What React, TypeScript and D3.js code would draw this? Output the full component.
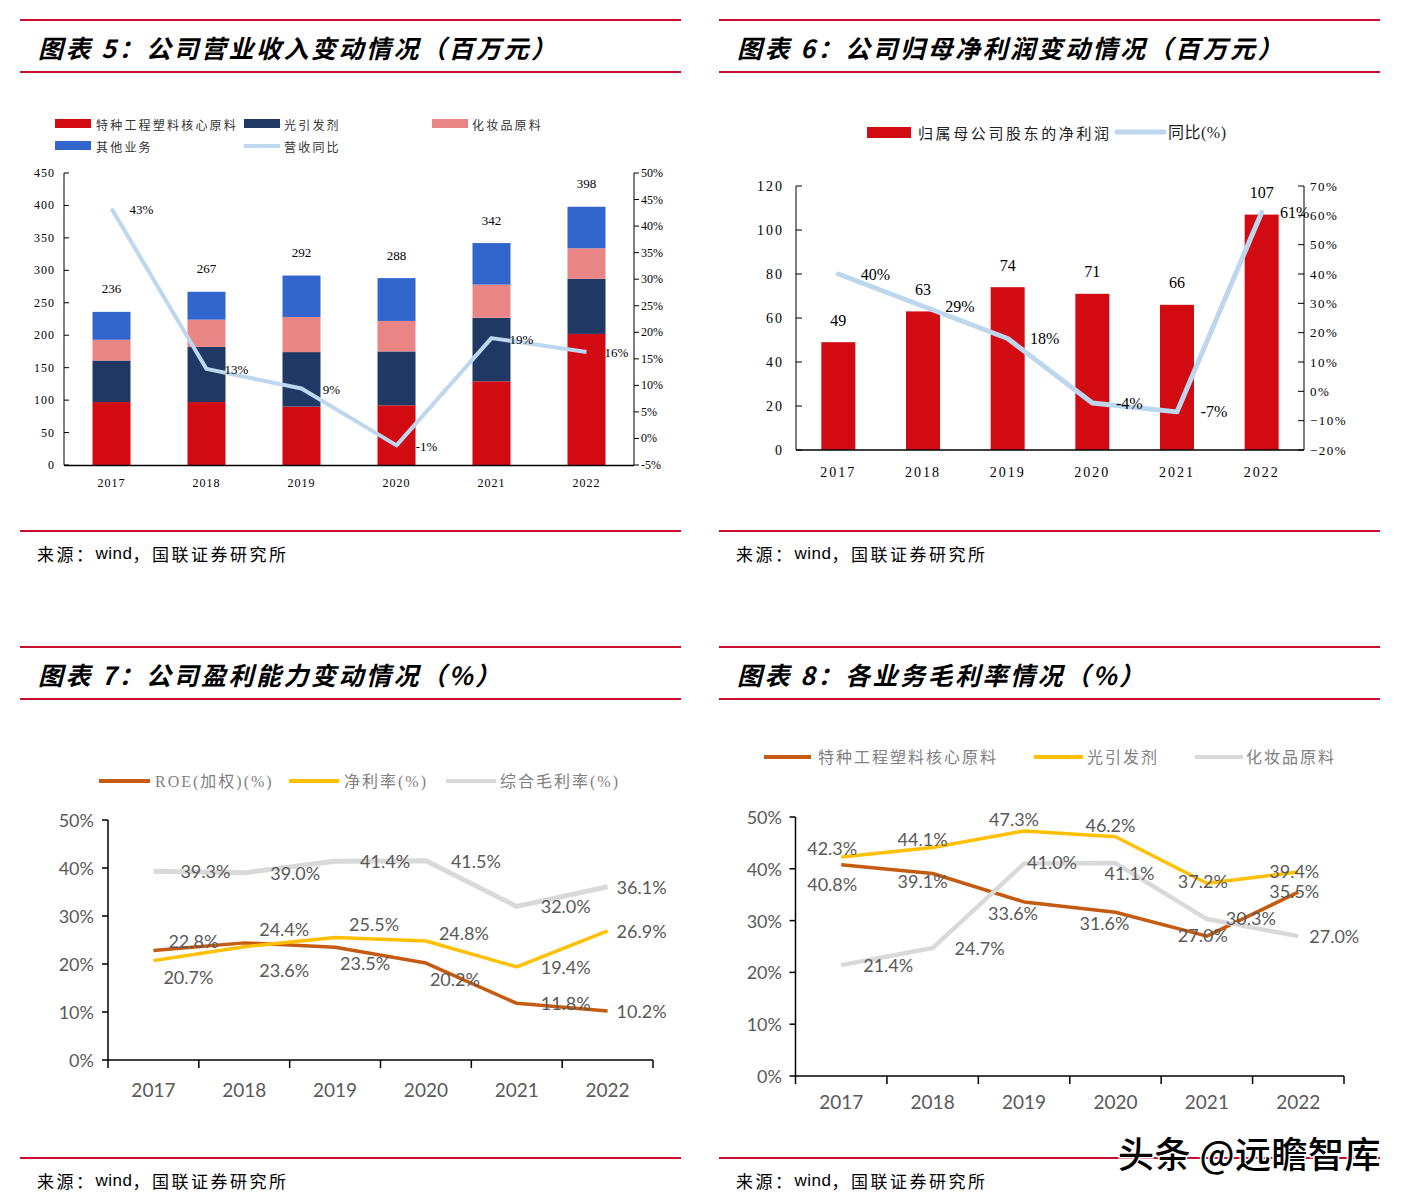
import React from 'react';
import * as d3 from 'd3';

// ---------- shared ----------
const YEARS = ['2017', '2018', '2019', '2020', '2021', '2022'];

// ---------- chart 5: revenue (million yuan) ----------
const REV_SPECIAL = [97, 97, 90, 92, 129, 202];
const REV_PHOTO = [64, 85, 84, 83, 98, 85];
const REV_COSMETIC = [32, 42, 54, 47, 51, 47];
const REV_OTHER = [43, 43, 64, 66, 64, 64];
const REV_TOTAL = [236, 267, 292, 288, 342, 398];
const REV_YOY = [43.3, 13.1, 9.4, -1.3, 18.9, 16.3];
const REV_LEFT_TICKS = [0, 50, 100, 150, 200, 250, 300, 350, 400, 450];
const REV_RIGHT_TICKS = [-5, 0, 5, 10, 15, 20, 25, 30, 35, 40, 45, 50];

// ---------- chart 6: net profit ----------
const NP_VALUES = [49, 63, 74, 71, 66, 107];
const NP_YOY = [40, 29, 18, -4, -7, 61];
const NP_LEFT_TICKS = [0, 20, 40, 60, 80, 100, 120];
const NP_RIGHT_TICKS = [-20, -10, 0, 10, 20, 30, 40, 50, 60, 70];

// ---------- chart 7: profitability ----------
const ROE = [22.8, 24.4, 23.5, 20.2, 11.8, 10.2];
const NET_MARGIN = [20.7, 23.6, 25.5, 24.8, 19.4, 26.9];
const GROSS_MARGIN = [39.3, 39.0, 41.4, 41.5, 32.0, 36.1];
const PCT_TICKS = [0, 10, 20, 30, 40, 50];

// ---------- chart 8: segment gross margins ----------
const GM_SPECIAL = [40.8, 39.1, 33.6, 31.6, 27.0, 35.5];
const GM_PHOTO = [42.3, 44.1, 47.3, 46.2, 37.2, 39.4];
const GM_COSMETIC = [21.4, 24.7, 41.0, 41.1, 30.3, 27.0];

const RULE = '#C8102E';
const SERIF = '"Liberation Serif", "Noto Sans CJK SC", serif';
const CJK = '"Noto Sans CJK SC", sans-serif';
const SANS = 'Lato, "Noto Sans", sans-serif';
const LABEL_GREY = '#595959';

function Panel({ x0, x1, top, bottom, title }: { x0: number; x1: number; top: number; bottom: number; title: string }) {
  return (
    <g>
      <line x1={x0} x2={x1} y1={top} y2={top} stroke={RULE} strokeWidth={2} />
      <line x1={x0} x2={x1} y1={top + 52} y2={top + 52} stroke={RULE} strokeWidth={2} />
      <text x={x0 + 18} y={top + 27} dominantBaseline="central" fontFamily={CJK} fontWeight={700} fontStyle="italic" fontSize={25} letterSpacing={2.5} fill="#000">
        {title}
      </text>
      <line x1={x0} x2={x1} y1={bottom} y2={bottom} stroke={RULE} strokeWidth={2} />
      <text x={x0 + 17} y={bottom + 22} dominantBaseline="central" fontFamily={CJK} fontSize={17} letterSpacing={2.5} fill="#000">
        来源：<tspan fontFamily='"Liberation Sans", Arial, sans-serif' letterSpacing={0.5}>wind</tspan>，国联证券研究所
      </text>
    </g>
  );
}

function Chart5() {
  const x = d3.scaleBand<string>().domain(YEARS).range([64, 634]);
  const y = d3.scaleLinear().domain([0, 450]).range([465, 173]);
  const yR = d3.scaleLinear().domain([-5, 50]).range([465, 173]);
  const rows = YEARS.map((yr, i) => ({ year: yr, special: REV_SPECIAL[i], photo: REV_PHOTO[i], cosmetic: REV_COSMETIC[i], other: REV_OTHER[i] }));
  const keys = ['special', 'photo', 'cosmetic', 'other'];
  const colors: Record<string, string> = { special: '#D20A11', photo: '#1F3864', cosmetic: '#E98585', other: '#3366CC' };
  const stacked = d3.stack<any>().keys(keys)(rows);
  const bw = 38;
  const cx = (yr: string) => (x(yr) as number) + x.bandwidth() / 2;
  const line = d3.line<number>().x((_, i) => cx(YEARS[i])).y((d) => yR(d));
  return (
    <g fontFamily={SERIF}>
      {/* legend */}
      <g fontFamily={CJK} fontSize={12} letterSpacing={2.2} fill="#333">
        <rect x={55} y={119} width={36} height={9} fill={colors.special} />
        <text x={96} y={124} dominantBaseline="central">特种工程塑料核心原料</text>
        <rect x={244} y={119} width={36} height={9} fill={colors.photo} />
        <text x={284} y={124} dominantBaseline="central">光引发剂</text>
        <rect x={432} y={119} width={36} height={9} fill={colors.cosmetic} />
        <text x={472} y={124} dominantBaseline="central">化妆品原料</text>
        <rect x={55} y={141} width={36} height={9} fill={colors.other} />
        <text x={96} y={146} dominantBaseline="central">其他业务</text>
        <line x1={244} x2={280} y1={146} y2={146} stroke="#BDD7EE" strokeWidth={4} />
        <text x={284} y={146} dominantBaseline="central">营收同比</text>
      </g>
      {stacked.map((s) => (
        <g key={s.key} fill={colors[s.key]}>
          {s.map((d, i) => (
            <rect key={i} x={cx(YEARS[i]) - bw / 2} y={y(d[1])} width={bw} height={y(d[0]) - y(d[1])} />
          ))}
        </g>
      ))}
      {/* axes */}
      <line x1={64} x2={64} y1={173} y2={465} stroke="#000" />
      <line x1={634} x2={634} y1={173} y2={465} stroke="#000" />
      <line x1={64} x2={634} y1={465.5} y2={465.5} stroke="#000" strokeWidth={1.5} />
      {REV_LEFT_TICKS.map((t) => (
        <g key={t}>
          <line x1={64} x2={69} y1={y(t)} y2={y(t)} stroke="#000" />
          <text x={55} y={y(t)} textAnchor="end" dominantBaseline="central" fontSize={12} letterSpacing={1}>{t}</text>
        </g>
      ))}
      {REV_RIGHT_TICKS.map((t) => (
        <g key={t}>
          <line x1={634} x2={639} y1={yR(t)} y2={yR(t)} stroke="#000" />
          <text x={641} y={yR(t)} dominantBaseline="central" fontSize={12}>{t}%</text>
        </g>
      ))}
      {YEARS.map((yr) => (
        <text key={yr} x={cx(yr)} y={483} textAnchor="middle" dominantBaseline="central" fontSize={12} letterSpacing={1}>{yr}</text>
      ))}
      <path d={line(REV_YOY) || ''} fill="none" stroke="#BDD7EE" strokeWidth={4} strokeLinejoin="round" />
      {REV_TOTAL.map((v, i) => (
        <text key={i} x={cx(YEARS[i])} y={y(v) - 23} textAnchor="middle" dominantBaseline="central" fontSize={13}>{v}</text>
      ))}
      {REV_YOY.map((v, i) => (
        <text key={i} x={cx(YEARS[i]) + 30} y={yR(v) + 1} textAnchor="middle" dominantBaseline="central" fontSize={13}>{Math.round(v)}%</text>
      ))}
    </g>
  );
}

function Chart6() {
  const x = d3.scaleBand<string>().domain(YEARS).range([796, 1304]);
  const y = d3.scaleLinear().domain([0, 120]).range([450, 186]);
  const yR = d3.scaleLinear().domain([-20, 70]).range([450, 186]);
  const cx = (i: number) => (x(YEARS[i]) as number) + x.bandwidth() / 2;
  const bw = 34;
  const line = d3.line<number>().x((_, i) => cx(i)).y((d) => yR(d));
  return (
    <g fontFamily={SERIF}>
      <g fontFamily={CJK} fontSize={15} letterSpacing={2.6} fill="#222">
        <rect x={867} y={127} width={44} height={11} fill="#D20A11" />
        <text x={918} y={132} dominantBaseline="central">归属母公司股东的净利润</text>
        <line x1={1117} x2={1164} y1={132} y2={132} stroke="#BDD7EE" strokeWidth={5} strokeLinecap="round" />
        <text x={1168} y={132} dominantBaseline="central" letterSpacing={0.5} fontFamily={SERIF} fontSize={16}>同比(%)</text>
      </g>
      {NP_VALUES.map((v, i) => (
        <rect key={i} x={cx(i) - bw / 2} y={y(v)} width={bw} height={y(0) - y(v)} fill="#D20A11" />
      ))}
      <line x1={796} x2={796} y1={186} y2={450} stroke="#000" />
      <line x1={1304} x2={1304} y1={186} y2={450} stroke="#000" />
      <line x1={796} x2={1304} y1={450} y2={450} stroke="#000" strokeWidth={1.5} />
      {NP_LEFT_TICKS.map((t) => (
        <g key={t}>
          <line x1={796} x2={802} y1={y(t)} y2={y(t)} stroke="#000" />
          <text x={784} y={y(t)} textAnchor="end" dominantBaseline="central" fontSize={14} letterSpacing={2}>{t}</text>
        </g>
      ))}
      {NP_RIGHT_TICKS.map((t) => (
        <g key={t}>
          <line x1={1298} x2={1304} y1={yR(t)} y2={yR(t)} stroke="#000" />
          <text x={1310} y={yR(t)} dominantBaseline="central" fontSize={13} letterSpacing={1.5}>{t < 0 ? '\u2212' + Math.abs(t) : t}%</text>
        </g>
      ))}
      {YEARS.map((yr, i) => (
        <text key={yr} x={cx(i)} y={472} textAnchor="middle" dominantBaseline="central" fontSize={14} letterSpacing={2}>{yr}</text>
      ))}
      <path d={line(NP_YOY) || ''} fill="none" stroke="#BDD7EE" strokeWidth={5} strokeLinejoin="round" strokeLinecap="round" />
      {NP_VALUES.map((v, i) => (
        <text key={i} x={cx(i)} y={y(v) - 22} textAnchor="middle" dominantBaseline="central" fontSize={16}>{v}</text>
      ))}
      {NP_YOY.map((v, i) => (
        <text key={i} x={cx(i) + (i === NP_YOY.length - 1 ? 33 : 37)} y={yR(v)} textAnchor="middle" dominantBaseline="central" fontSize={16}>{v}%</text>
      ))}
    </g>
  );
}

type Series = { name: string; values: number[]; color: string; width: number; offsets: [number, number][] };

function LineChart({ x0, x1, yTop, yBottom, series, legendY, legend, tickRight, xLabelY }: {
  x0: number; x1: number; yTop: number; yBottom: number; series: Series[]; legendY: number;
  legend: { x1: number; x2: number; tx: number }[]; tickRight: number; xLabelY: number;
}) {
  const x = d3.scaleBand<string>().domain(YEARS).range([x0, x1]);
  const y = d3.scaleLinear().domain([0, 50]).range([yBottom, yTop]);
  const cx = (i: number) => (x(YEARS[i]) as number) + x.bandwidth() / 2;
  const line = d3.line<number>().x((_, i) => cx(i)).y((d) => y(d));
  const bounds = [...YEARS.map((yr) => x(yr) as number), x1];
  return (
    <g>
      <g fontFamily={SERIF} fontSize={16} fill="#808080" letterSpacing={2}>
        {series.map((s, k) => (
          <g key={s.name}>
            <line x1={legend[k].x1} x2={legend[k].x2} y1={legendY} y2={legendY} stroke={s.color} strokeWidth={4} />
            <text x={legend[k].tx} y={legendY} dominantBaseline="central">{s.name}</text>
          </g>
        ))}
      </g>
      <line x1={x0} x2={x0} y1={yTop} y2={yBottom} stroke="#000" strokeWidth={1.5} />
      <line x1={x0} x2={x1} y1={yBottom} y2={yBottom} stroke="#000" strokeWidth={1.5} />
      {PCT_TICKS.map((t) => (
        <g key={t}>
          <line x1={x0 - 6} x2={x0} y1={y(t)} y2={y(t)} stroke="#000" strokeWidth={1.5} />
          <text x={tickRight} y={y(t)} textAnchor="end" dominantBaseline="central" fontFamily={SANS} fontSize={18} fill={LABEL_GREY}>{t}%</text>
        </g>
      ))}
      {bounds.map((b, i) => (
        <line key={i} x1={b} x2={b} y1={yBottom} y2={yBottom + 8} stroke="#000" strokeWidth={1.5} />
      ))}
      {YEARS.map((yr, i) => (
        <text key={yr} x={cx(i)} y={xLabelY} textAnchor="middle" dominantBaseline="central" fontFamily={SANS} fontSize={19} fill={LABEL_GREY}>{yr}</text>
      ))}
      {series.map((s) => (
        <path key={s.name} d={line(s.values) || ''} fill="none" stroke={s.color} strokeWidth={s.width} strokeLinejoin="round" />
      ))}
      {series.map((s) => (
        <g key={s.name + 'l'}>
          {s.values.map((v, i) => (
            <text key={i} x={cx(i) + s.offsets[i][0]} y={y(v) + s.offsets[i][1]} textAnchor="middle" dominantBaseline="central" fontFamily={SANS} fontSize={18} fill={LABEL_GREY}>
              {v.toFixed(1)}%
            </text>
          ))}
        </g>
      ))}
    </g>
  );
}

export default function App() {
  const chart7: Series[] = [
    { name: 'ROE(加权)(%)', values: ROE, color: '#C55A11', width: 3.5, offsets: [[40, -10], [40, -14], [30, 16], [29, 16], [49, 0], [34, 0]] },
    { name: '净利率(%)', values: NET_MARGIN, color: '#FFC000', width: 3.5, offsets: [[35, 16], [40, 23], [39, -14], [38, -8], [49, 0], [34, 0]] },
    { name: '综合毛利率(%)', values: GROSS_MARGIN, color: '#D9D9D9', width: 5, offsets: [[52, 0], [51, 0], [50, 0], [50, 0], [49, 0], [34, 0]] },
  ];
  const chart8: Series[] = [
    { name: '特种工程塑料核心原料', values: GM_SPECIAL, color: '#C55A11', width: 3.5, offsets: [[-9, 19], [-10, 8], [-11, 11], [-11, 11], [-4, -1], [-4, -1]] },
    { name: '光引发剂', values: GM_PHOTO, color: '#FFC000', width: 3.5, offsets: [[-9, -9], [-10, -9], [-10, -12], [-5, -12], [-4, -2], [-4, -1]] },
    { name: '化妆品原料', values: GM_COSMETIC, color: '#D9D9D9', width: 4.5, offsets: [[47, 0], [47, 0], [28, -2], [14, 10], [44, -1], [36, 0]] },
  ];
  return (
    <svg width={1408} height={1201} style={{ position: 'absolute', left: 0, top: 0, background: '#fff' }}>
      <rect x={0} y={0} width={1408} height={1201} fill="#fff" />
      <Panel x0={20} x1={681} top={20} bottom={531} title="图表 5：公司营业收入变动情况（百万元）" />
      <Panel x0={719} x1={1380} top={20} bottom={531} title="图表 6：公司归母净利润变动情况（百万元）" />
      <Panel x0={20} x1={681} top={647} bottom={1158} title="图表 7：公司盈利能力变动情况（%）" />
      <Panel x0={719} x1={1380} top={647} bottom={1158} title="图表 8：各业务毛利率情况（%）" />
      <Chart5 />
      <Chart6 />
      <LineChart x0={108} x1={653} yTop={820} yBottom={1060} series={chart7} legendY={781}
        legend={[{ x1: 99, x2: 150, tx: 155 }, { x1: 289, x2: 339, tx: 344 }, { x1: 446, x2: 496, tx: 500 }]}
        tickRight={94} xLabelY={1089} />
      <LineChart x0={795.5} x1={1344} yTop={817} yBottom={1076} series={chart8} legendY={757}
        legend={[{ x1: 764, x2: 811, tx: 818 }, { x1: 1034, x2: 1083, tx: 1087 }, { x1: 1195, x2: 1243, tx: 1246 }]}
        tickRight={782} xLabelY={1101} />
      <text x={1118} y={1152} dominantBaseline="central" fontFamily={CJK} fontSize={36} fontWeight={500} letterSpacing={0.5} fill="#000" stroke="#fff" strokeWidth={3} paintOrder="stroke">
        头条 @远瞻智库
      </text>
    </svg>
  );
}
